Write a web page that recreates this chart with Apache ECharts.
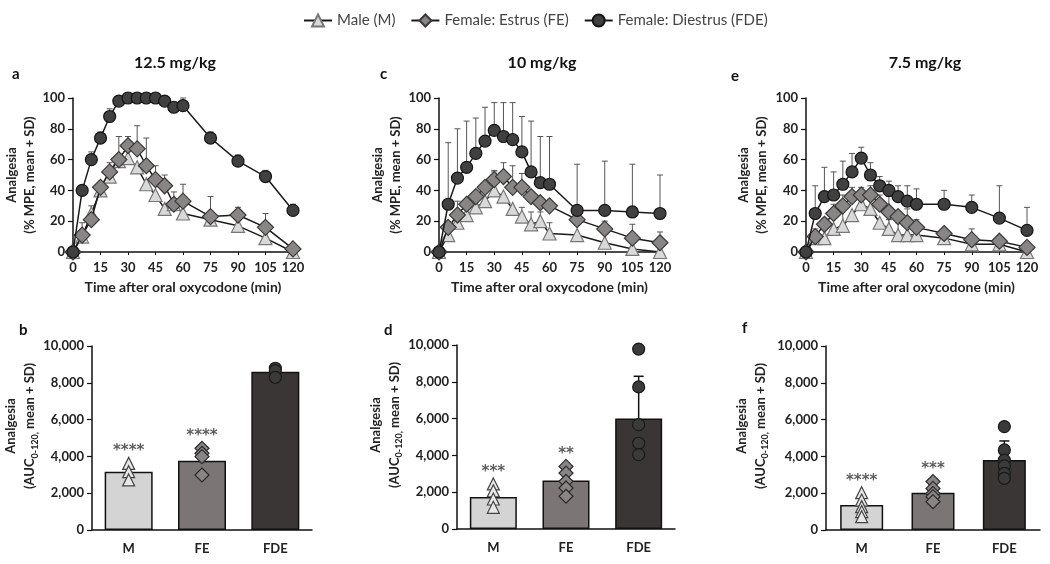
<!DOCTYPE html>
<html>
<head>
<meta charset="utf-8">
<script src="https://cdn.jsdelivr.net/npm/echarts@6/dist/echarts.min.js"></script>
<style>
  html, body { margin: 0; padding: 0; background: #fff; }
  #main { width: 1050px; height: 564px; }
</style>
</head>
<body>
<div id="main"></div>
<script>
// time points (min)
var times = [0, 5, 10, 15, 20, 25, 30, 35, 40, 45, 50, 55, 60, 75, 90, 105, 120];
var groups = ['Male (M)', 'Female: Estrus (FE)', 'Female: Diestrus (FDE)'];
var barCats = ['M', 'FE', 'FDE'];

// 12.5 mg/kg  (panel a)
var aM      = [0, 10, 25, 40, 49, 59, 61, 55, 44, 37, 28, 31, 25, 21, 17, 9, 0];
var aM_sd   = [0, 9, 5, 0, 0, 16, 0, 0, 0, 0, 0, 0, 0, 0, 0, 0, 0];
var aFE     = [0, 11, 21, 42, 52, 60, 69, 67, 56, 47, 43, 31, 33, 23, 24, 16, 2];
var aFE_sd  = [0, 0, 0, 0, 6, 0, 6, 15, 18, 9, 7, 8, 11, 13, 5, 9, 0];
var aFDE    = [0, 40, 60, 74, 88, 98, 100, 100, 100, 100, 98, 94, 95, 74, 59, 49, 27];
var aFDE_sd = [0, 0, 5, 4, 5, 1, 0, 0, 0, 0, 0, 2, 5, 4, 4, 4, 4];

// 10 mg/kg  (panel c)
var cM      = [0, 11, 19, 24, 29, 33, 40, 36, 28, 23, 18, 20, 12, 11, 6, 2, 0];
var cM_sd   = [0, 0, 0, 0, 0, 0, 12, 0, 0, 6, 8, 6, 7, 0, 0, 0, 0];
var cFE     = [0, 16, 24, 31, 36, 42, 47, 49, 42, 42, 36, 32, 30, 21, 15, 9, 6];
var cFE_sd  = [0, 0, 9, 0, 0, 0, 6, 9, 14, 9, 0, 0, 0, 0, 5, 9, 7];
var cFDE    = [0, 31, 48, 55, 64, 72, 79, 75, 73, 65, 52, 45, 44, 27, 27, 26, 25];
var cFDE_sd = [0, 40, 32, 30, 23, 22, 18, 22, 24, 23, 33, 30, 31, 30, 32, 31, 25];

// 7.5 mg/kg  (panel e)
var eM      = [0, 9, 9, 15, 17, 24, 31, 28, 19, 15, 11, 11, 11, 9, 5, 5, 0];
var eM_sd   = [0, 6, 13, 0, 11, 0, 0, 8, 0, 6, 8, 8, 0, 0, 0, 0, 0];
var eFE     = [0, 10, 18, 25, 30, 36, 37, 37, 31, 26, 23, 19, 16, 12, 8, 7, 3];
var eFE_sd  = [0, 0, 0, 6, 7, 6, 5, 6, 6, 10, 0, 9, 5, 3, 7, 3, 0];
var eFDE    = [0, 25, 36, 37, 44, 52, 61, 50, 43, 40, 36, 33, 31, 31, 29, 22, 14];
var eFDE_sd = [0, 18, 19, 15, 15, 12, 7, 8, 6, 6, 7, 10, 10, 9, 8, 21, 15];

// AUC bars (panels b, d, f): means, SD, individual animals, stars
var bMean = [3170, 3770, 8600];
var bSd   = [0, 0, 0];
var bPtsM = [3620, 3170, 2720];
var bPtsFE = [4440, 4170, 3990, 2990];
var bPtsFDE = [8790, 8660, 8300];
var bStars = ['****', '****', ''];

var dMean = [1740, 2630, 6000];
var dSd   = [0, 0, 2300];
var dPtsM = [2450, 2080, 1630, 1180];
var dPtsFE = [3400, 3040, 2590, 2230, 1780];
var dPtsFDE = [9780, 7720, 5670, 4660, 4040];
var dStars = ['***', '**', ''];

var fMean = [1360, 2030, 3800];
var fSd   = [0, 0, 1040];
var fPtsM = [2030, 1630, 1270, 1000, 725];
var fPtsFE = [2630, 2260, 1990, 1810, 1540];
var fPtsFDE = [5620, 4350, 3800, 3480, 3080, 2810];
var fStars = ['****', '***', ''];

var FONT = 'Lato';
var chart = echarts.init(document.getElementById('main'));

var sym = [
  { symbol: 'triangle', size: 13, fill: '#d9d9d9', border: '#777' },
  { symbol: 'diamond', size: 16, fill: '#8a8585', border: '#3a3a3a' },
  { symbol: 'circle', size: 12, fill: '#404040', border: '#151515' }
];
var barColors = ['#d4d4d4', '#7b7575', '#3b3636'];

function errRender(params, api) {
  var sd = api.value(2);
  if (!sd) return null;
  var p0 = api.coord([api.value(0), api.value(1)]);
  var p1 = api.coord([api.value(0), api.value(1) + sd]);
  var isBar = params.seriesName === 'barerr';
  var w = isBar ? 5 : 3;
  var st = { stroke: isBar ? '#111' : '#555', lineWidth: isBar ? 1.5 : 1 };
  return {
    type: 'group',
    children: [
      { type: 'line', shape: { x1: p0[0], y1: p0[1], x2: p1[0], y2: p1[1] }, style: st },
      { type: 'line', shape: { x1: p1[0] - w, y1: p1[1], x2: p1[0] + w, y2: p1[1] }, style: st }
    ]
  };
}

var grids = [
  { left: 73, top: 98, width: 220, height: 154 },
  { left: 439, top: 98, width: 221, height: 154 },
  { left: 806, top: 98, width: 221, height: 154 },
  { left: 92, top: 346, width: 220, height: 184 },
  { left: 457, top: 345, width: 218, height: 184 },
  { left: 826, top: 346, width: 214, height: 184 }
];

var axisLine = { show: true, lineStyle: { color: '#111', width: 1.5 } };
var tickStyle = { show: true, length: 5, lineStyle: { color: '#111', width: 1.2 } };
var lblStyle = { fontFamily: FONT, fontWeight: 'bold', fontSize: 13, color: '#222' };

var xAxes = [], yAxes = [], series = [];
var lineGaps = [31, 34, 35];
[0, 1, 2].forEach(function (g) {
  xAxes.push({
    type: 'value', gridIndex: g, min: 0, max: 120, interval: 15,
    axisLine: axisLine, axisTick: { show: true, length: 3, lineStyle: { color: '#111' } },
    splitLine: { show: false },
    axisLabel: Object.assign({ margin: 9 }, lblStyle),
    name: 'Time after oral oxycodone (min)', nameLocation: 'middle', nameGap: 28,
    nameTextStyle: { fontFamily: FONT, fontWeight: 'bold', fontSize: 14, color: '#222' }
  });
  yAxes.push({
    type: 'value', gridIndex: g, min: 0, max: 100, interval: 20,
    axisLine: axisLine, axisTick: tickStyle, splitLine: { show: false },
    axisLabel: Object.assign({ margin: 8 }, lblStyle),
    name: 'Analgesia\n(% MPE, mean + SD)', nameLocation: 'middle', nameGap: lineGaps[g],
    nameTextStyle: { fontFamily: FONT, fontWeight: 'bold', fontSize: 13, color: '#222', lineHeight: 18 }
  });
});

var barGaps = [50, 53, 56];
[3, 4, 5].forEach(function (g, k) {
  xAxes.push({
    type: 'category', gridIndex: g, data: barCats,
    axisLine: axisLine, axisTick: { show: false },
    axisLabel: Object.assign({ margin: 12 }, lblStyle)
  });
  yAxes.push({
    type: 'value', gridIndex: g, min: 0, max: 10000, interval: 2000,
    axisLine: axisLine, axisTick: tickStyle, splitLine: { show: false },
    axisLabel: Object.assign({ margin: 8, formatter: function (v) { return v.toLocaleString('en-US'); } }, lblStyle),
    name: '{t|Analgesia}\n{t|(AUC}{s|0-120,}{t| mean + SD)}', nameLocation: 'middle', nameGap: barGaps[k],
    nameTextStyle: {
      padding: [0, 0, 0, 24],
      rich: {
        t: { fontFamily: FONT, fontWeight: 'bold', fontSize: 13, color: '#222', lineHeight: 19 },
        s: { fontFamily: FONT, fontWeight: 'bold', fontSize: 9, color: '#222', lineHeight: 19, verticalAlign: 'bottom', padding: [6, 0, 0, 0] }
      }
    }
  });
});

var lineData = [
  [[aM, aM_sd], [aFE, aFE_sd], [aFDE, aFDE_sd]],
  [[cM, cM_sd], [cFE, cFE_sd], [cFDE, cFDE_sd]],
  [[eM, eM_sd], [eFE, eFE_sd], [eFDE, eFDE_sd]]
];
lineData.forEach(function (panel, g) {
  panel.forEach(function (pair) {
    series.push({
      type: 'custom', name: 'lineerr', xAxisIndex: g, yAxisIndex: g, z: 1,
      renderItem: errRender, silent: true,
      encode: { x: 0, y: 1 },
      data: times.map(function (t, i) { return [t, pair[0][i], pair[1][i]]; })
    });
  });
  panel.forEach(function (pair, s) {
    series.push({
      type: 'line', name: groups[s], xAxisIndex: g, yAxisIndex: g, z: 3 + s,
      data: times.map(function (t, i) { return [t, pair[0][i]]; }),
      symbol: sym[s].symbol, symbolSize: sym[s].size, showAllSymbol: true,
      lineStyle: { color: '#1a1a1a', width: 1.5 },
      itemStyle: { color: sym[s].fill, borderColor: sym[s].border, borderWidth: 1.2 },
      animation: false
    });
  });
});

var barData = [
  [bMean, bSd, [bPtsM, bPtsFE, bPtsFDE], bStars, 48],
  [dMean, dSd, [dPtsM, dPtsFE, dPtsFDE], dStars, 47],
  [fMean, fSd, [fPtsM, fPtsFE, fPtsFDE], fStars, 43]
];
var ptStyle = [
  { symbol: 'triangle', size: 12, fill: '#e8e8e8', border: '#444' },
  { symbol: 'diamond', size: 14, fill: '#8a8585', border: '#2a2a2a' },
  { symbol: 'circle', size: 12, fill: '#3a3a3a', border: '#1a1a1a' }
];
barData.forEach(function (p, k) {
  var g = 3 + k;
  series.push({
    type: 'bar', xAxisIndex: g, yAxisIndex: g, barWidth: p[4], z: 1,
    data: p[0].map(function (v, i) {
      return { value: v, itemStyle: { color: barColors[i], borderColor: '#111', borderWidth: 1.5 } };
    }),
    animation: false
  });
  series.push({
    type: 'custom', name: 'barerr', xAxisIndex: g, yAxisIndex: g, z: 2,
    renderItem: errRender, silent: true, encode: { x: 0, y: 1 },
    data: p[0].map(function (v, i) { return [i, v, p[1][i]]; })
  });
  p[2].forEach(function (pts, i) {
    series.push({
      type: 'scatter', xAxisIndex: g, yAxisIndex: g, z: 3,
      symbol: ptStyle[i].symbol, symbolSize: ptStyle[i].size,
      itemStyle: { color: ptStyle[i].fill, borderColor: ptStyle[i].border, borderWidth: 1.2, opacity: 1 },
      data: pts.map(function (v) { return [i, v]; }),
      animation: false
    });
  });
  series.push({
    type: 'scatter', xAxisIndex: g, yAxisIndex: g, z: 4, symbolSize: 1,
    itemStyle: { color: 'rgba(0,0,0,0)' },
    data: p[3].map(function (s, i) { return [i, Math.max.apply(null, p[2][i]), s]; }),
    label: {
      show: true, position: 'top', distance: 4,
      formatter: function (d) { return d.value[2]; },
      fontFamily: 'DejaVu Sans', fontWeight: 'bold', fontSize: 15, color: '#333'
    },
    animation: false
  });
});

var titleStyle = { fontFamily: FONT, fontWeight: 'bold', fontSize: 16, color: '#111' };
var letterStyle = { fontFamily: FONT, fontWeight: 'bold', fontSize: 15, fill: '#111' };

chart.setOption({
  backgroundColor: '#fff',
  animation: false,
  title: [
    { text: '12.5 mg/kg', left: 170, top: 50, textAlign: 'center', textStyle: titleStyle },
    { text: '10 mg/kg', left: 537, top: 50, textAlign: 'center', textStyle: titleStyle },
    { text: '7.5 mg/kg', left: 920, top: 50, textAlign: 'center', textStyle: titleStyle }
  ],
  legend: {
    data: groups, top: 8, left: 298, itemWidth: 28, itemHeight: 15, itemGap: 15,
    selectedMode: false,
    textStyle: { fontFamily: FONT, fontSize: 15, color: '#444' }
  },
  graphic: [
    { type: 'text', left: 12, top: 67, style: Object.assign({ text: 'a' }, letterStyle) },
    { type: 'text', left: 380, top: 67, style: Object.assign({ text: 'c' }, letterStyle) },
    { type: 'text', left: 731, top: 69, style: Object.assign({ text: 'e' }, letterStyle) },
    { type: 'text', left: 19, top: 323, style: Object.assign({ text: 'b' }, letterStyle) },
    { type: 'text', left: 384, top: 323, style: Object.assign({ text: 'd' }, letterStyle) },
    { type: 'text', left: 742, top: 321, style: Object.assign({ text: 'f' }, letterStyle) }
  ],
  grid: grids,
  xAxis: xAxes,
  yAxis: yAxes,
  series: series
});
</script>
</body>
</html>
